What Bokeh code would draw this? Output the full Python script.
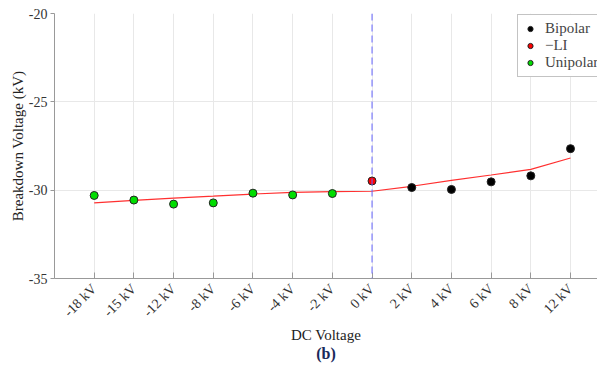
import math
from bokeh.plotting import figure
from bokeh.models import (Range1d, FixedTicker, Span, Legend, LegendItem, Title)
from bokeh.embed import file_html
from bokeh.resources import INLINE

categories = ["-18 kV", "-15 kV", "-12 kV", "-8 kV", "-6 kV", "-4 kV", "-2 kV",
              "0 kV", "2 kV", "4 kV", "6 kV", "8 kV", "12 kV"]

unipolar_cats = ["-18 kV", "-15 kV", "-12 kV", "-8 kV", "-6 kV", "-4 kV", "-2 kV"]
unipolar_vals = [-30.30, -30.56, -30.79, -30.72, -30.17, -30.27, -30.19]

li_cats = ["0 kV"]
li_vals = [-29.48]

bipolar_cats = ["2 kV", "4 kV", "6 kV", "8 kV", "12 kV"]
bipolar_vals = [-29.85, -29.96, -29.53, -29.19, -27.65]

fit_vals = [-30.72, -30.58, -30.45, -30.34, -30.22, -30.13, -30.08,
            -30.06, -29.78, -29.45, -29.14, -28.82, -28.18]

y_ticks = [-35, -30, -25, -20]
y_tick_labels = ["-35", "-30", "-25", "-20"]

pos = {c: i + 1 for i, c in enumerate(categories)}
xs_all = [pos[c] for c in categories]

FONT = "Liberation Serif"

p = figure(width=597, height=368, output_backend="svg", toolbar_location=None,
           x_range=Range1d(0, 13.68), y_range=Range1d(-35, -20),
           min_border_left=54, min_border_right=0, min_border_top=13,
           min_border_bottom=0)
p.outline_line_color = None
p.background_fill_color = "white"
p.border_fill_color = "white"

p.xgrid.grid_line_color = "#e8e8e8"
p.ygrid.grid_line_color = "#e8e8e8"

p.xaxis.ticker = FixedTicker(ticks=xs_all)
p.xaxis.major_label_overrides = {pos[c]: c for c in categories}
p.xaxis.major_label_orientation = math.pi / 4
p.yaxis.ticker = FixedTicker(ticks=y_ticks)
p.yaxis.major_label_overrides = {t: s for t, s in zip(y_ticks, y_tick_labels)}
p.yaxis.axis_label = "Breakdown Voltage (kV)"

for ax in (p.xaxis[0], p.yaxis[0]):
    ax.axis_line_color = "#999999"
    ax.major_tick_line_color = "#999999"
    ax.minor_tick_line_color = None
    ax.major_label_text_font = FONT
    ax.major_label_text_font_size = "14px"
    ax.major_label_text_color = "#333333"
    ax.axis_label_text_font = FONT
    ax.axis_label_text_font_size = "15px"
    ax.axis_label_text_font_style = "normal"
    ax.axis_label_text_color = "#222222"
p.xaxis.major_tick_in = 6
p.xaxis.major_tick_out = 0
p.xaxis.major_label_standoff = 8
p.yaxis.major_tick_in = 0
p.yaxis.major_tick_out = 4
p.yaxis.major_label_standoff = 3
p.yaxis.axis_label_standoff = 0

vline = Span(location=pos["0 kV"], dimension="height", line_color="#6666ff",
             line_dash="7 4", line_width=1)
p.add_layout(vline)

p.line([pos[c] for c in categories], fit_vals, line_color="#ff3030", line_width=1.2)

rb = p.scatter([pos[c] for c in bipolar_cats], bipolar_vals, size=8,
               fill_color="black", line_color="#222222")
rl = p.scatter([pos[c] for c in li_cats], li_vals, size=8,
               fill_color="#ff0000", line_color="#222222")
ru = p.scatter([pos[c] for c in unipolar_cats], unipolar_vals, size=8,
               fill_color="#00dd00", line_color="#222222")

legend = Legend(items=[LegendItem(label="Bipolar", renderers=[rb]),
                       LegendItem(label="\u2212LI", renderers=[rl]),
                       LegendItem(label="Unipolar", renderers=[ru])],
                location=(463, 201))
legend.label_text_font = FONT
legend.label_text_font_size = "15px"
legend.label_text_line_height = 0.85
legend.label_height = 13
legend.glyph_height = 13
legend.glyph_width = 14
legend.spacing = 0
legend.padding = 5
legend.margin = 0
legend.label_standoff = 8
legend.border_line_color = "#888888"
legend.background_fill_alpha = 1
p.add_layout(legend)

t1 = Title(text="DC Voltage", align="center", text_font=FONT,
           text_font_size="15px", text_font_style="normal", text_color="#222222",
           offset=7, standoff=-5)
p.add_layout(t1, "below")
t2 = Title(text="(b)", align="center", text_font=FONT,
           text_font_size="16px", text_font_style="bold", text_color="#1a2a5a",
           offset=-10, standoff=9, vertical_align="top")
p.add_layout(t2, "below")

open("out.html", "w").write(file_html(p, INLINE))
